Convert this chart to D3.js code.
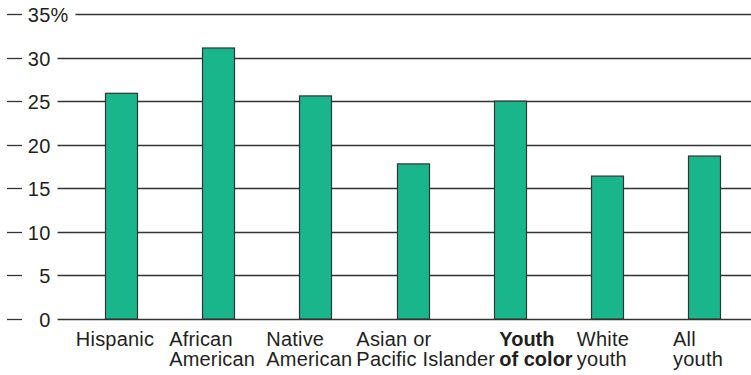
<!DOCTYPE html>
<html>
<head>
<meta charset="utf-8">
<script src="https://cdn.jsdelivr.net/npm/d3@7"></script>
<style>
  html, body { margin: 0; padding: 0; background: #fff; }
  svg { display: block; }
  text { font-family: "Liberation Sans", Arial, Helvetica, sans-serif; fill: #231f20; }
</style>
</head>
<body>
<svg id="chart" width="751" height="375"></svg>
<script>
// ---- data ----
const categories = ["Hispanic", "African American", "Native American", "Asian or Pacific Islander", "Youth of color", "White youth", "All youth"];
const labelLines = [["Hispanic"], ["African", "American"], ["Native", "American"], ["Asian or", "Pacific Islander"], ["Youth", "of color"], ["White", "youth"], ["All", "youth"]];
const boldCategories = ["Youth of color"];
const values = [25.9, 31.1, 25.6, 17.8, 25.0, 16.4, 18.7];
const yTicks = [0, 5, 10, 15, 20, 25, 30, 35];
const yTickLabels = ["0", "5", "10", "15", "20", "25", "30", "35%"];

// ---- layout ----
const W = 751, H = 375;
const svg = d3.select("#chart");
const y = d3.scaleLinear().domain([0, 35]).range([319, 14]);
const x = d3.scalePoint().domain(categories).range([121, 704]);
const barW = 32;
const fontSize = 20, letterSp = 0.2;

// gridlines + tick labels
const g = svg.append("g");
yTicks.forEach((t, i) => {
  const yy = Math.round(y(t)) + 0.5;
  g.append("line").attr("x1", 7).attr("x2", 22).attr("y1", yy).attr("y2", yy)
    .attr("stroke", "#333").attr("stroke-width", 1.3);
  const lbl = yTickLabels[i];
  const num = lbl.replace("%", "");
  const txt = g.append("text")
    .attr("y", yy + 7)
    .attr("font-size", fontSize)
    .attr("letter-spacing", letterSp)
    .text(lbl);
  // right-align the number at x=50, letting "%" overhang
  const tmp = g.append("text").attr("font-size", fontSize).attr("letter-spacing", letterSp).text(num);
  const numW = tmp.node().getComputedTextLength();
  tmp.remove();
  txt.attr("x", 50.5 - numW);
  const fullW = txt.node().getComputedTextLength();
  const startLine = 50.5 - numW + fullW + 7;
  g.append("line").attr("x1", startLine).attr("x2", W).attr("y1", yy).attr("y2", yy)
    .attr("stroke", "#333").attr("stroke-width", 1.3);
});

// bars
svg.append("g").selectAll("rect")
  .data(categories)
  .join("rect")
  .attr("x", d => Math.round(x(d) - barW / 2) + 0.5)
  .attr("y", (d, i) => y(values[i]))
  .attr("width", barW)
  .attr("height", (d, i) => y(0) - y(values[i]))
  .attr("fill", "#19b68c")
  .attr("stroke", "#333")
  .attr("stroke-width", 1.2);

// category labels: roughly centred under bars, flowed so they never collide
const lg = svg.append("g");
let prevEnd = -Infinity;
categories.forEach((c, i) => {
  const bold = boldCategories.includes(c);
  const t = lg.append("text")
    .attr("font-size", fontSize)
    .attr("letter-spacing", bold ? 0 : letterSp)
    .attr("font-weight", bold ? "bold" : "normal");
  labelLines[i].forEach((ln, j) => {
    t.append("tspan").attr("x", 0).attr("y", 346 + j * 20).text(ln);
  });
  const w = t.node().getBBox().width;
  let start = x(c) - w / 2 - 6;
  if (start < prevEnd + 4) start = prevEnd + 4;
  t.selectAll("tspan").attr("x", start);
  prevEnd = start + w;
});
</script>
</body>
</html>
